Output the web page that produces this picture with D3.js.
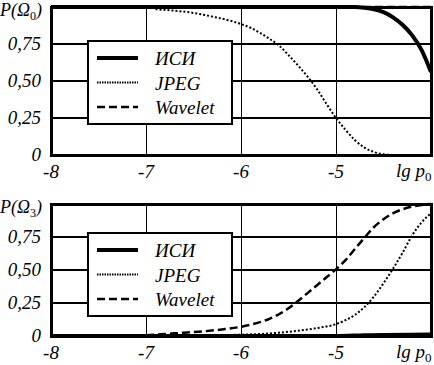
<!DOCTYPE html>
<head>
<meta charset="utf-8">
<title>P(Omega) vs lg p0</title>
<style>
  body { margin: 0; padding: 0; background: #fff; }
  svg text { font-family: "Liberation Serif", "Tinos", "Noto Serif", "DejaVu Serif", "Times New Roman", Times, serif; font-style: italic; fill: #000; }
  .grid line { stroke: #000; shape-rendering: crispEdges; }
  .frame { fill: none; stroke: #000; stroke-width: 3; shape-rendering: crispEdges; }
  .legend rect { fill: #fff; stroke: #000; stroke-width: 2.5; shape-rendering: crispEdges; }
</style>
</head>
<body>
<div id="vis"></div>
<script src="https://cdn.jsdelivr.net/npm/d3@7"></script>
<script>
var xTicks = [-8, -7, -6, -5],
    yTicks = [0, 0.25, 0.5, 0.75],
    yTickLabels = ['0', '0,25', '0,50', '0,75'],
    seriesNames = ['ИСИ', 'JPEG', 'Wavelet'];

// top panel, P(Omega_0)
var topIsiX = [-8, -4.8, -4.7, -4.6, -4.5, -4.4, -4.3, -4.2, -4.1, -4.0],
    topIsiY = [1, 1, 0.995, 0.985, 0.965, 0.93, 0.88, 0.81, 0.71, 0.56];
var topJpegX = [-6.9, -6.7, -6.5, -6.3, -6.1, -6.0, -5.9, -5.8, -5.7, -5.6, -5.5, -5.4, -5.3, -5.2, -5.1, -5.0, -4.9, -4.8, -4.7, -4.6, -4.5, -4.4, -4.0],
    topJpegY = [0.985, 0.975, 0.96, 0.935, 0.905, 0.885, 0.86, 0.825, 0.785, 0.74, 0.675, 0.605, 0.53, 0.445, 0.345, 0.25, 0.17, 0.1, 0.05, 0.02, 0.005, 0, 0];
var topWaveX = [-8, -4],
    topWaveY = [1, 1];

// bottom panel, P(Omega_3)
var botIsiX = [-8, -5, -4.7, -4.0],
    botIsiY = [0, 0, 0.006, 0.012];
var botJpegX = [-7.0, -6.5, -6.0, -5.8, -5.6, -5.4, -5.2, -5.0, -4.9, -4.8, -4.7, -4.6, -4.5, -4.4, -4.3, -4.2, -4.1, -4.0],
    botJpegY = [0, 0.005, 0.01, 0.015, 0.025, 0.04, 0.06, 0.09, 0.12, 0.16, 0.22, 0.3, 0.4, 0.51, 0.63, 0.76, 0.86, 0.93];
var botWaveX = [-7.0, -6.8, -6.6, -6.4, -6.2, -6.0, -5.8, -5.7, -5.6, -5.5, -5.4, -5.3, -5.2, -5.1, -5.0, -4.9, -4.8, -4.7, -4.6, -4.5, -4.4, -4.3, -4.2, -4.1, -4.0],
    botWaveY = [0.005, 0.015, 0.025, 0.035, 0.05, 0.07, 0.105, 0.13, 0.165, 0.21, 0.265, 0.325, 0.385, 0.445, 0.505, 0.575, 0.66, 0.745, 0.825, 0.885, 0.93, 0.96, 0.98, 0.993, 1.0];

var width = 434, height = 365;
var svg = d3.select('#vis').append('svg')
    .attr('width', width).attr('height', height);

var x = d3.scaleLinear().domain([-8, -4]).range([51, 431]);

var styles = {
  'ИСИ': { w: 4, dash: null },
  'JPEG': { w: 2, dash: '2,2' },
  'Wavelet': { w: 2.5, dash: '8,4' }
};

function zip(xs, ys) {
  return xs.map(function(v, i) { return { x: v, y: ys[i] }; });
}

var panels = [
  { top: 7, bottom: 155, sub: '0', legendY: 41,
    series: [
      { name: 'Wavelet', pts: zip(topWaveX, topWaveY) },
      { name: 'JPEG', pts: zip(topJpegX, topJpegY) },
      { name: 'ИСИ', pts: zip(topIsiX, topIsiY) }
    ] },
  { top: 204, bottom: 336, sub: '3', legendY: 233,
    series: [
      { name: 'Wavelet', pts: zip(botWaveX, botWaveY) },
      { name: 'JPEG', pts: zip(botJpegX, botJpegY) },
      { name: 'ИСИ', pts: zip(botIsiX, botIsiY) }
    ] }
];

panels.forEach(function(p, pi) {
  var y = d3.scaleLinear().domain([0, 1]).range([p.bottom, p.top]);
  var g = svg.append('g');

  var grid = g.append('g').attr('class', 'grid');
  grid.selectAll('line.h').data(yTicks.filter(function(d) { return d > 0; }))
    .enter().append('line')
      .attr('x1', x(-8)).attr('x2', x(-4))
      .attr('y1', function(d) { return y(d); }).attr('y2', function(d) { return y(d); })
      .attr('stroke-width', 2);
  grid.selectAll('line.v').data(xTicks.filter(function(d) { return d > -8; }))
    .enter().append('line')
      .attr('x1', function(d) { return x(d); }).attr('x2', function(d) { return x(d); })
      .attr('y1', y(0)).attr('y2', y(1))
      .attr('stroke-width', 1);

  var clipId = 'clip' + pi;
  svg.append('clipPath').attr('id', clipId).append('rect')
    .attr('x', x(-8)).attr('y', y(1) - 3)
    .attr('width', x(-4) - x(-8)).attr('height', y(0) - y(1) + 6);

  var line = d3.line()
    .x(function(d) { return x(d.x); })
    .y(function(d) { return y(d.y); })
    .curve(d3.curveMonotoneX);

  g.append('g').attr('clip-path', 'url(#' + clipId + ')')
    .selectAll('path').data(p.series)
    .enter().append('path')
      .attr('d', function(d) { return line(d.pts); })
      .attr('fill', 'none')
      .attr('stroke', '#000')
      .attr('stroke-width', function(d) { return styles[d.name].w; })
      .attr('stroke-dasharray', function(d) { return styles[d.name].dash; });

  g.append('rect').attr('class', 'frame')
    .attr('x', x(-8)).attr('y', y(1))
    .attr('width', x(-4) - x(-8)).attr('height', y(0) - y(1));

  // y tick labels
  g.selectAll('text.yl').data(yTicks)
    .enter().append('text')
      .attr('x', 41)
      .attr('y', function(d) { return y(d) + 6; })
      .attr('text-anchor', 'end')
      .style('font-size', '19px')
      .text(function(d, i) { return yTickLabels[i]; });

  // x tick labels
  g.selectAll('text.xl').data(xTicks)
    .enter().append('text')
      .attr('x', function(d) { return x(d); })
      .attr('y', y(0) + 23)
      .attr('text-anchor', 'middle')
      .style('font-size', '19px')
      .text(function(d) { return '-' + Math.abs(d); });

  var xl = g.append('text')
    .attr('x', 396).attr('y', y(0) + 22)
    .style('font-size', '19px');
  xl.append('tspan').text('lg ');
  xl.append('tspan').text('p');
  xl.append('tspan').attr('dy', 4).style('font-size', '13px').style('font-style', 'normal').text('0');

  var yl = g.append('text')
    .attr('x', 0).attr('y', y(1) + 9)
    .style('font-size', '18px');
  yl.append('tspan').text('P(Ω');
  yl.append('tspan').attr('dy', 4).style('font-size', '12px').style('font-style', 'normal').text(p.sub);
  yl.append('tspan').attr('dy', -4).text(')');

  // legend
  var lg = g.append('g').attr('class', 'legend')
    .attr('transform', 'translate(88,' + p.legendY + ')');
  lg.append('rect').attr('width', 144).attr('height', 83);
  var item = lg.selectAll('g.item').data(seriesNames)
    .enter().append('g')
      .attr('transform', function(d, i) { return 'translate(0,' + (17 + i * 24.5) + ')'; });
  item.append('line')
    .attr('x1', 9).attr('x2', 50).attr('y1', 0).attr('y2', 0)
    .attr('stroke', '#000')
    .attr('stroke-width', function(d) { return styles[d].w; })
    .attr('stroke-dasharray', function(d) { return d == 'JPEG' ? '1.5,1' : styles[d].dash; });
  item.append('text')
    .attr('x', 67).attr('y', 7)
    .style('font-size', '19px')
    .text(function(d) { return d; });
});
</script>
</body>
